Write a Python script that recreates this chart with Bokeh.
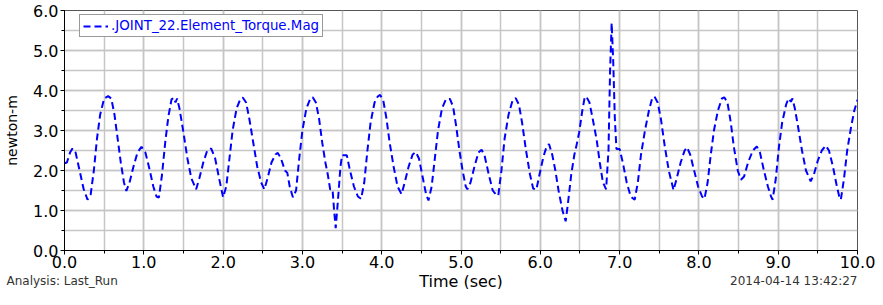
from bokeh.plotting import figure
from bokeh.layouts import column
from bokeh.models import (Range1d, SingleIntervalTicker, PrintfTickFormatter, Label,
                          Legend, LegendItem)
from bokeh.embed import file_html
from bokeh.resources import INLINE

# ---- data ----
time_sec = [
    0.00, 0.03, 0.07, 0.10, 0.14, 0.19, 0.24, 0.29, 0.33, 0.37, 0.41, 0.45, 0.50, 0.55, 0.59,
    0.63, 0.67, 0.71, 0.75, 0.78, 0.82, 0.87, 0.92, 0.97, 1.02, 1.07, 1.12, 1.16, 1.19, 1.23,
    1.27, 1.31, 1.35, 1.38, 1.40, 1.42, 1.45, 1.50, 1.55, 1.60, 1.66, 1.70, 1.75, 1.80, 1.85,
    1.90, 1.95, 2.00, 2.04, 2.08, 2.12, 2.17, 2.22, 2.25, 2.29, 2.33, 2.38, 2.43, 2.48, 2.52,
    2.56, 2.61, 2.66, 2.69, 2.73, 2.78, 2.81, 2.84, 2.88, 2.92, 2.96, 3.00, 3.05, 3.10, 3.13,
    3.17, 3.21, 3.25, 3.29, 3.32, 3.35, 3.38, 3.40, 3.42, 3.45, 3.48, 3.50, 3.56, 3.60, 3.65,
    3.70, 3.74, 3.78, 3.82, 3.86, 3.91, 3.95, 3.98, 4.02, 4.06, 4.10, 4.15, 4.20, 4.25, 4.29,
    4.34, 4.39, 4.43, 4.47, 4.52, 4.56, 4.59, 4.63, 4.67, 4.71, 4.76, 4.81, 4.86, 4.90, 4.94,
    4.98, 5.02, 5.06, 5.08, 5.12, 5.17, 5.22, 5.26, 5.30, 5.35, 5.40, 5.44, 5.47, 5.51, 5.55,
    5.60, 5.65, 5.69, 5.73, 5.77, 5.82, 5.87, 5.91, 5.95, 5.99, 6.04, 6.08, 6.11, 6.15, 6.19,
    6.23, 6.28, 6.32, 6.35, 6.39, 6.43, 6.46, 6.49, 6.53, 6.56, 6.58, 6.62, 6.66, 6.71, 6.75,
    6.79, 6.83, 6.86, 6.88, 6.90, 6.92, 6.94, 6.96, 7.00, 7.04, 7.09, 7.14, 7.19, 7.23, 7.27,
    7.32, 7.37, 7.41, 7.44, 7.48, 7.52, 7.57, 7.62, 7.68, 7.72, 7.77, 7.82, 7.85, 7.89, 7.94,
    7.99, 8.04, 8.07, 8.11, 8.15, 8.19, 8.24, 8.29, 8.32, 8.36, 8.40, 8.44, 8.49, 8.53, 8.57,
    8.62, 8.68, 8.73, 8.77, 8.82, 8.87, 8.91, 8.93, 8.97, 9.01, 9.05, 9.10, 9.13, 9.16, 9.18,
    9.21, 9.25, 9.30, 9.35, 9.41, 9.45, 9.50, 9.55, 9.60, 9.64, 9.69, 9.74, 9.77, 9.79, 9.83,
    9.87, 9.92, 9.96, 10.00,
]
torque_mag = [
    2.18, 2.20, 2.45, 2.55, 2.45, 2.00, 1.55, 1.27, 1.40, 2.00, 2.80, 3.40, 3.80, 3.86, 3.80,
    3.40, 2.80, 2.20, 1.70, 1.49, 1.70, 2.10, 2.45, 2.59, 2.45, 2.05, 1.60, 1.35, 1.32, 1.90,
    2.70, 3.35, 3.78, 3.82, 3.70, 3.80, 3.55, 2.95, 2.30, 1.80, 1.53, 1.80, 2.20, 2.50, 2.55,
    2.30, 1.80, 1.33, 1.60, 2.30, 3.00, 3.55, 3.80, 3.82, 3.70, 3.30, 2.70, 2.10, 1.70, 1.53,
    1.80, 2.20, 2.40, 2.44, 2.30, 2.00, 1.94, 1.60, 1.33, 1.50, 2.30, 3.00, 3.55, 3.80, 3.83,
    3.70, 3.30, 2.70, 2.20, 1.90, 1.53, 1.53, 1.00, 0.56, 1.30, 2.10, 2.38, 2.38, 2.00, 1.60,
    1.35, 1.29, 1.70, 2.50, 3.20, 3.70, 3.85, 3.89, 3.75, 3.30, 2.70, 2.10, 1.60, 1.41, 1.70,
    2.10, 2.40, 2.46, 2.30, 1.80, 1.40, 1.25, 1.60, 2.30, 3.00, 3.55, 3.78, 3.79, 3.60, 3.10,
    2.50, 2.00, 1.60, 1.53, 1.70, 2.10, 2.45, 2.52, 2.35, 1.90, 1.50, 1.40, 1.37, 2.00, 2.80,
    3.40, 3.75, 3.81, 3.65, 3.20, 2.50, 1.90, 1.55, 1.52, 1.90, 2.35, 2.60, 2.66, 2.40, 2.00,
    1.50, 1.00, 0.73, 1.20, 1.90, 2.40, 2.66, 2.95, 3.50, 3.83, 3.85, 3.70, 3.30, 2.78, 2.20,
    1.70, 1.53, 2.50, 4.50, 5.69, 4.70, 3.30, 2.54, 2.54, 2.20, 1.70, 1.35, 1.27, 1.70, 2.40,
    3.00, 3.50, 3.80, 3.85, 3.70, 3.30, 2.60, 2.00, 1.51, 1.80, 2.20, 2.50, 2.58, 2.40, 2.00,
    1.60, 1.35, 1.29, 1.70, 2.40, 3.00, 3.50, 3.80, 3.83, 3.70, 3.23, 2.60, 2.00, 1.77, 1.85,
    2.20, 2.50, 2.60, 2.45, 2.00, 1.60, 1.35, 1.27, 1.80, 2.60, 3.20, 3.65, 3.80, 3.72, 3.80,
    3.55, 3.10, 2.50, 2.00, 1.73, 1.90, 2.25, 2.50, 2.62, 2.50, 2.10, 1.60, 1.35, 1.27, 1.80,
    2.50, 3.10, 3.50, 3.77,
]
series_name = ".JOINT_22.Element_Torque.Mag"
x_label = "Time (sec)"
y_label = "newton-m"
analysis_text = "Analysis:  Last_Run"
timestamp_text = "2014-04-14 13:42:27"
x_limits = (0, 10)
y_limits = (0, 6)

FONT = "DejaVu Sans"
GRID = "#c6c6c6"
W = 875
BL, BR, BT, BB = 64, 18, 10, 22
MAIN_H = 272
FOOT_H = 17

p = figure(width=W, height=MAIN_H, output_backend="svg", toolbar_location=None,
           x_range=Range1d(*x_limits), y_range=Range1d(*y_limits),
           min_border_left=BL, min_border_right=BR, min_border_top=BT, min_border_bottom=BB,
           background_fill_color="white", border_fill_color="white")
p.frame_align = False

r = p.line(time_sec, torque_mag, line_color="#0000ff", line_width=2, line_dash="7 4")

for ax in (p.xaxis[0], p.yaxis[0]):
    ax.ticker = SingleIntervalTicker(interval=1, num_minor_ticks=2)
    ax.formatter = PrintfTickFormatter(format="%.1f")
    ax.major_label_text_font = FONT
    ax.major_label_text_font_size = "16px"
    ax.major_label_text_color = "black"
    ax.major_tick_in = 0
    ax.major_tick_out = 4
    ax.minor_tick_in = 0
    ax.minor_tick_out = 3
    ax.axis_line_color = "black"
    ax.major_tick_line_color = "black"
    ax.minor_tick_line_color = "black"
    ax.major_label_standoff = 2
p.xaxis.major_label_standoff = 1

p.yaxis.axis_label = y_label
p.yaxis.axis_label_text_font = FONT
p.yaxis.axis_label_text_font_size = "14px"
p.yaxis.axis_label_text_font_style = "normal"
p.yaxis.axis_label_text_color = "black"
p.yaxis.axis_label_standoff = 10

for g in (p.xgrid[0], p.ygrid[0]):
    g.grid_line_color = GRID
    g.grid_line_width = 1.5
    g.minor_grid_line_color = GRID
    g.minor_grid_line_width = 1.5

p.outline_line_color = "#555555"
p.outline_line_width = 1

frame_h = MAIN_H - BT - BB
legend = Legend(items=[LegendItem(label=series_name, renderers=[r])],
                location=(15, frame_h - 7 - 20), padding=3, margin=0,
                glyph_width=25, glyph_height=14, label_height=14, label_standoff=3,
                label_text_font=FONT, label_text_font_size="13.4px", label_text_color="#0000ff",
                border_line_color="#333333", border_line_width=1,
                background_fill_color="white", background_fill_alpha=1)
p.add_layout(legend)

# footer strip holding the x-axis title and the run / date notes
f = figure(width=W, height=FOOT_H, output_backend="svg", toolbar_location=None,
           x_range=Range1d(0, W), y_range=Range1d(0, FOOT_H),
           x_axis_type=None, y_axis_type=None,
           min_border_left=0, min_border_right=0, min_border_top=0, min_border_bottom=0,
           background_fill_color="white", border_fill_color="white")
f.frame_align = False
f.outline_line_color = None
f.xgrid.visible = False
f.ygrid.visible = False
mid = FOOT_H / 2
f.add_layout(Label(x=(BL + W - BR) / 2, y=mid, text=x_label, text_align="center",
                   text_baseline="middle", text_font=FONT, text_font_size="16px",
                   text_color="black"))
f.add_layout(Label(x=6, y=mid, text=analysis_text, text_align="left",
                   text_baseline="middle", text_font=FONT, text_font_size="12px",
                   text_color="#333333"))
f.add_layout(Label(x=W - BR, y=mid, text=timestamp_text, text_align="right",
                   text_baseline="middle", text_font=FONT, text_font_size="12px",
                   text_color="#333333"))

layout = column(p, f, spacing=0)
open("out.html", "w").write(file_html(layout, INLINE))
